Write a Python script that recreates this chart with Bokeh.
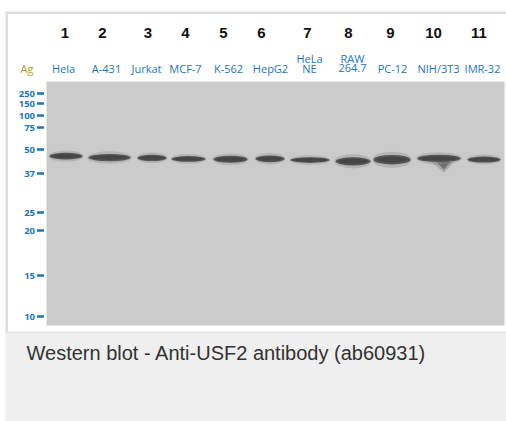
import numpy as np
from bokeh.plotting import figure
from bokeh.models import Range1d
from bokeh.core.properties import value
from bokeh.embed import file_html
from bokeh.resources import INLINE

# ---------------- data ----------------
lane_numbers = ["1", "2", "3", "4", "5", "6", "7", "8", "9", "10", "11"]
lane_top_line = ["", "", "", "", "", "", "HeLa", "RAW", "", "", ""]
lane_bottom_line = ["Hela", "A-431", "Jurkat", "MCF-7", "K-562", "HepG2",
                    "NE", "264.7", "PC-12", "NIH/3T3", "IMR-32"]
antigen_label = "Ag"
marker_kda = [250, 150, 100, 75, 50, 37, 25, 20, 15, 10]
marker_labels = ["250", "150", "100", "75", "50", "37", "25", "20", "15", "10"]
marker_migration = [12, 22, 34, 46, 68, 92, 131, 149, 194, 235]  # from membrane top
band_kda = [46.0, 45.2, 45.0, 44.4, 44.2, 44.5, 43.8, 43.1, 44.0, 44.7, 44.1]
smear_lane_index = 9
smear_kda_low = 37.5
caption = "Western blot - Anti-USF2 antibody (ab60931)"

# ---------------- layout / style ----------------
lane_x = [65.5, 109, 151.5, 188, 230, 269.5, 309.5, 352.5, 391.5, 438.5, 483.5]
label_x = [63, 106, 146, 185, 228, 270, 309, 352, 392, 438, 482]
number_x = [64.5, 102, 147.5, 185, 223, 261, 307, 348, 390, 433, 478.5]
band_w = np.array([33, 42, 29, 34, 34, 29, 39, 35, 37, 43, 33], dtype=float)
band_h = np.array([6.7, 7.3, 6.3, 5.7, 7.0, 6.7, 5.7, 8.3, 9.5, 7.3, 6.0])

GEL_L, GEL_R, GEL_T, GEL_B = 46, 504, 81, 325
BLUE = "#1c76bc"
W, H = 506, 421
X0, Y0 = 0, 0


def mw_to_y(k):
    xp = -np.log10(np.array(marker_kda, dtype=float))
    return GEL_T + np.interp(-np.log10(np.asarray(k, dtype=float)), xp,
                             np.array(marker_migration, dtype=float))


p = figure(width=W, height=H, output_backend="svg", toolbar_location=None,
           x_range=Range1d(X0, X0 + W), y_range=Range1d(Y0 + H, Y0),
           x_axis_type=None, y_axis_type=None, min_border=0,
           background_fill_color="white", border_fill_color="white",
           outline_line_color=None)
p.grid.visible = False

# panel frame and caption area
p.quad(left=[5], right=[506], top=[11], bottom=[13.5], fill_color="#dddddd", line_color=None)
p.quad(left=[5], right=[7.5], top=[11], bottom=[332], fill_color="#dddddd", line_color=None)
p.quad(left=[5], right=[506], top=[332], bottom=[421], fill_color="#eeefee", line_color=None)
p.quad(left=[5], right=[506], top=[331], bottom=[332.5], fill_color="#e3e4e3", line_color=None)

# membrane
p.quad(left=[GEL_L], right=[GEL_R], top=[GEL_T], bottom=[GEL_B],
       fill_color="#cbcbcb", line_color=None)

# marker ladder
my = mw_to_y(marker_kda)
p.segment(x0=[36.5] * len(my), y0=my, x1=[43.5] * len(my), y1=my,
          line_color=BLUE, line_width=2.6)
p.text(x=[34.5] * len(my), y=my, text=marker_labels, text_font=value("Open Sans"),
       text_font_size="9.5px", text_font_style="bold", text_align="right",
       text_baseline="middle", text_color=BLUE)

# smear below the band in lane 10 (drawn first so the band sits on top)
by = mw_to_y(band_kda)
sx = lane_x[smear_lane_index]
s_top = float(by[smear_lane_index])
s_low = float(mw_to_y(smear_kda_low))
p.patch(x=[sx - 12, sx + 18, sx + 5], y=[s_top, s_top, s_low],
        fill_color="#7a7a7a", fill_alpha=0.45, line_color=None)
p.patch(x=[sx - 6, sx + 14, sx + 5], y=[s_top, s_top, s_low - 3],
        fill_color="#5a5a5a", fill_alpha=0.75, line_color=None)

# bands
p.ellipse(x=lane_x, y=by, width=band_w * 1.06, height=band_h * 1.7,
          fill_color="#8a8a8a", fill_alpha=0.35, line_color=None)
p.ellipse(x=lane_x, y=by, width=band_w, height=band_h,
          fill_color="#555555", line_color=None)
p.ellipse(x=lane_x, y=by, width=band_w * 0.85, height=band_h * 0.6,
          fill_color="#454545", line_color=None)

# header texts
p.text(x=number_x, y=[32] * 11, text=lane_numbers, text_font=value("Liberation Sans"),
       text_font_size="15px", text_font_style="bold", text_align="center",
       text_baseline="middle", text_color="#111111")
p.text(x=label_x, y=[67.5] * 11, text=lane_bottom_line, text_font=value("Open Sans"),
       text_font_size="11px", text_align="center", text_baseline="middle",
       text_color=BLUE)
p.text(x=label_x, y=[57.5] * 11, text=lane_top_line, text_font=value("Open Sans"),
       text_font_size="11px", text_align="center", text_baseline="middle",
       text_color=BLUE)
p.text(x=[26.5], y=[67.5], text=[antigen_label], text_font=value("Open Sans"),
       text_font_size="11px", text_align="center", text_baseline="middle",
       text_color="#b5a226")

# caption
p.text(x=[26], y=[352], text=[caption], text_font=value("Liberation Sans"),
       text_font_size="20px", text_align="left", text_baseline="middle",
       text_color="#333333")

open("out.html", "w").write(file_html(p, INLINE))
